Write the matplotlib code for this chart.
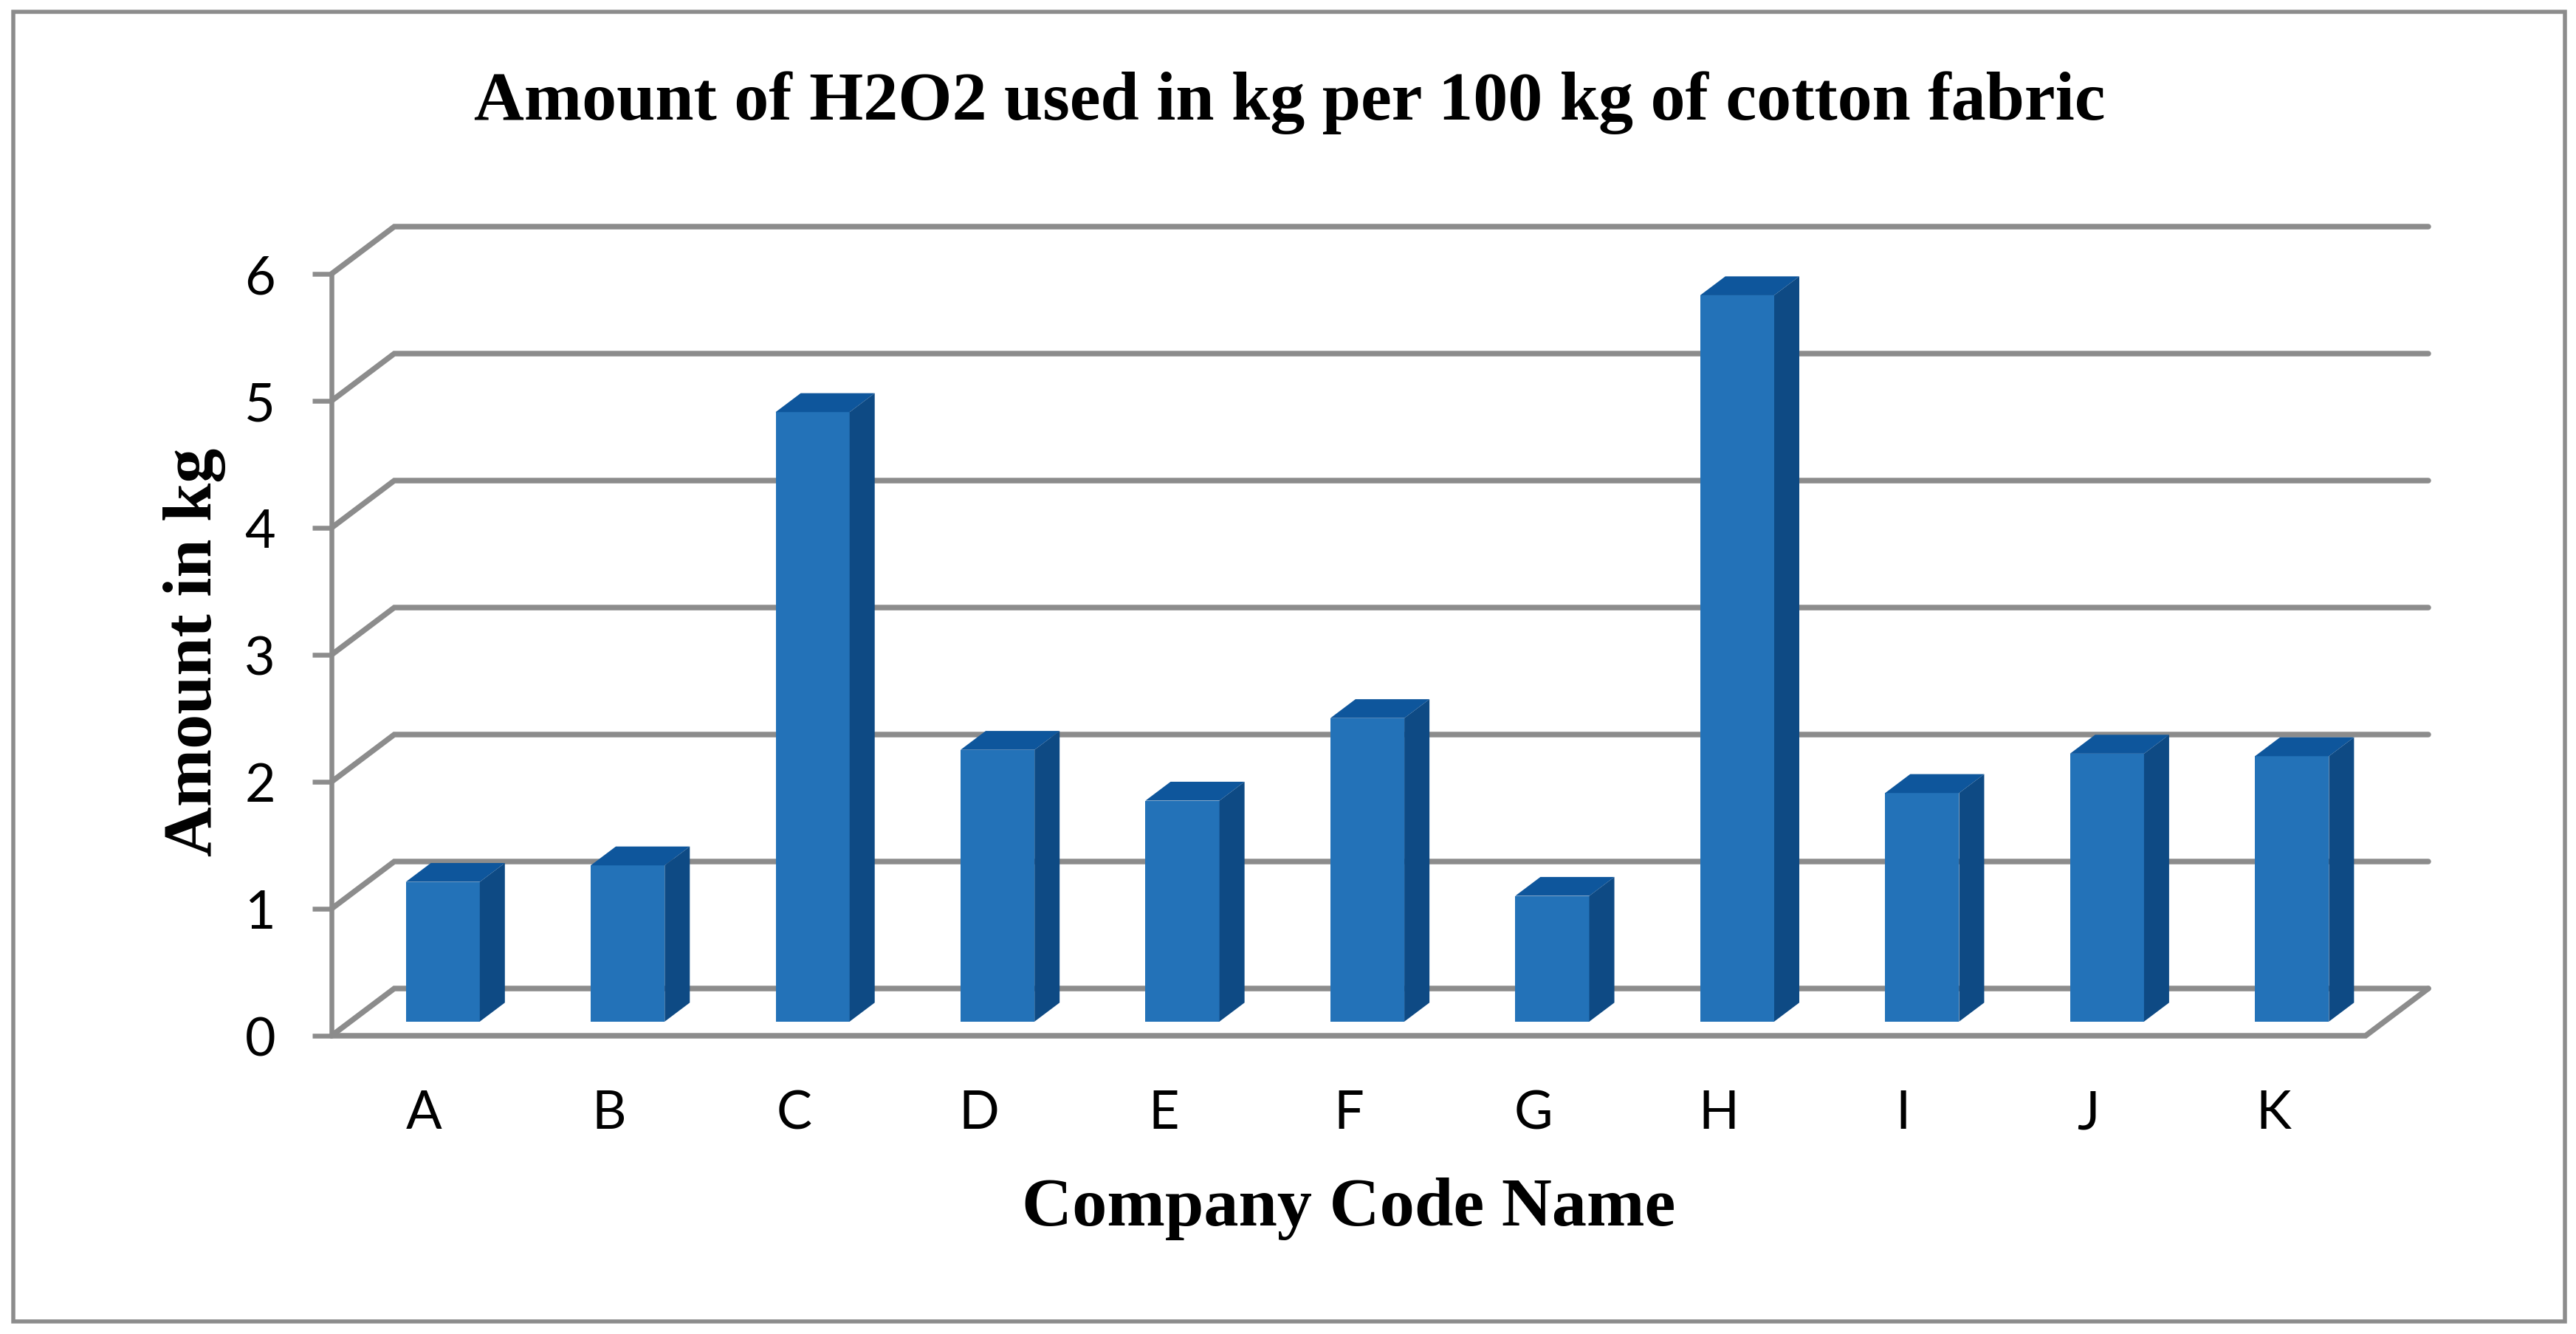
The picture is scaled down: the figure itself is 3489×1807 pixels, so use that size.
import matplotlib
matplotlib.use("Agg")
import matplotlib.pyplot as plt
from matplotlib.patches import Polygon, Rectangle

categories = ["A", "B", "C", "D", "E", "F", "G", "H", "I", "J", "K"]
values = [1.10, 1.23, 4.80, 2.14, 1.74, 2.39, 0.99, 5.72, 1.80, 2.11, 2.09]
y_ticks = [0, 1, 2, 3, 4, 5, 6]

TITLE = "Amount of H2O2 used in kg per 100 kg of cotton fabric"
XLABEL = "Company Code Name"
YLABEL = "Amount in kg"

W, H, DPI = 3489, 1808, 100
GREY = "#8c8c8c"
FACE, TOP, SIDE = "#2372b8", "#0e569c", "#0e4a84"
px = 72 / DPI  # points per pixel

fig = plt.figure(figsize=(W / DPI, H / DPI), dpi=DPI, facecolor="white")
AX_L, AX_R, AX_T, AX_B = 449, 3204, 372, 1404
ax = fig.add_axes([AX_L / W, 1 - AX_B / H, (AX_R - AX_L) / W, (AX_B - AX_T) / H])
ax.set_xlim(0, len(categories))
ax.set_ylim(0, 6)
ax.patch.set_alpha(0)
for s in ax.spines.values():
    s.set_visible(False)

# outer frame
fig.add_artist(Rectangle((18 / W, 1 - 1791 / H), (3474 - 18) / W, (1791 - 17) / H,
                         transform=fig.transFigure, fill=False, ec=GREY, lw=5.5 * px))

# oblique depth vector, in data units
DX = 85 / ((AX_R - AX_L) / len(categories))
DY = 64 / ((AX_B - AX_T) / 6)
n = len(categories)
LW = 7.5 * px
line = dict(color=GREY, clip_on=False, solid_capstyle="round", solid_joinstyle="miter", zorder=1)

for v in y_ticks:
    ax.plot([0, DX, n + DX], [v, v + DY, v + DY], lw=LW, **line)
ax.plot([0, 0], [0, 6], lw=6.5 * px, **line)
ax.plot([0, n, n + DX], [0, 0, DY], lw=LW, **line)

# 3D-looking bars
BAR_W = 0.40
D0, D1 = 0.3, 0.7
base = D0 * DY
lefts = [i + 0.5 - BAR_W / 2 + D0 * DX for i in range(n)]
ax.bar(lefts, values, width=BAR_W, bottom=base, align="edge", color=FACE, lw=0, zorder=3, clip_on=False)
ddx, ddy = (D1 - D0) * DX, (D1 - D0) * DY
for x0, v in zip(lefts, values):
    x1 = x0 + BAR_W
    t = base + v
    ax.add_patch(Polygon([(x0, t), (x1, t), (x1 + ddx, t + ddy), (x0 + ddx, t + ddy)],
                         closed=True, fc=TOP, ec="none", zorder=3, clip_on=False))
    ax.add_patch(Polygon([(x1, base), (x1 + ddx, base + ddy), (x1 + ddx, t + ddy), (x1, t)],
                         closed=True, fc=SIDE, ec="none", zorder=3, clip_on=False))

# ticks and labels
ax.set_yticks(y_ticks)
ax.set_yticklabels([str(v) for v in y_ticks], fontfamily="Lato", fontsize=72 * px)
ax.tick_params(axis="y", length=26 * px, width=6.5 * px, color=GREY, pad=50 * px)
ax.set_xticks([i + 0.5 for i in range(n)])
ax.set_xticklabels(categories, fontfamily="Lato", fontsize=72 * px)
ax.tick_params(axis="x", length=0, pad=72 * px)

def ax_frac(xp, yp):
    return (xp - AX_L) / (AX_R - AX_L), (AX_B - yp) / (AX_B - AX_T)

serif = dict(fontfamily="Liberation Serif", fontweight="bold", color="black")
ax.set_xlabel(XLABEL, fontsize=94.3 * px, **serif)
ax.xaxis.set_label_coords(*ax_frac(1827, 1638))
ax.xaxis.label.set_verticalalignment("center")
ax.set_ylabel(YLABEL, fontsize=94 * px, **serif)
ax.yaxis.set_label_coords(*ax_frac(264, 883))
ax.yaxis.label.set_verticalalignment("center")
tx, ty = ax_frac(1747, 148)
ax.set_title(TITLE, x=tx, y=ty, va="center", ha="center", fontsize=94 * px, **serif)

fig.savefig("out.png", dpi=DPI, facecolor="white")
